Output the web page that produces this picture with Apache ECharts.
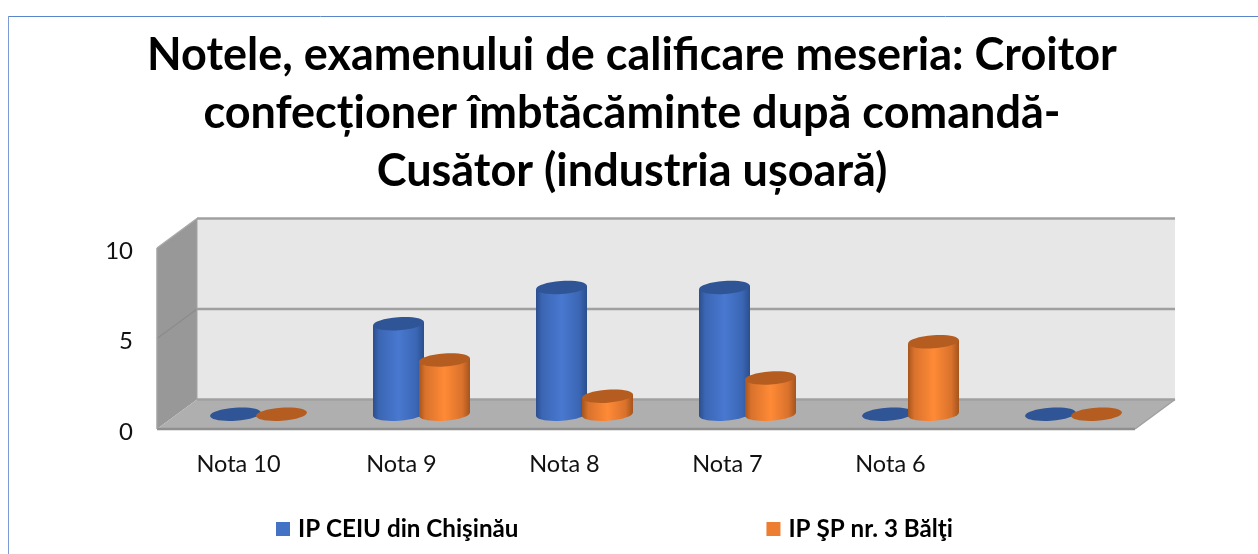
<!DOCTYPE html>
<html><head><meta charset="utf-8">
<style>html,body{margin:0;padding:0;background:#fff}#c{width:1258px;height:554px}</style>
<script src="https://cdn.jsdelivr.net/npm/echarts@6/dist/echarts.min.js"></script>
</head><body><div id="c"></div>
<script>
const categories = ['Nota 10','Nota 9','Nota 8','Nota 7','Nota 6',''];
const ceiu = [0,5,7,7,0,0];
const balti = [0,3,1,2,4,0];
const seriesNames = ['IP CEIU din Chişinău','IP ŞP nr. 3 Bălţi'];
const titleText = 'Notele, examenului de calificare meseria: Croitor\nconfecționer îmbtăcăminte după comandă-\nCusător (industria ușoară)';
const yTicks = [0,5,10];

const DX = 40, DY = -29.5;
const RX = 25.5, RY = 6.5, TILT = 0.07, SLOPE = 1.8;
const FONT = 'Lato, Carlito, "Open Sans", sans-serif';

function grad(edge, mid, light){
  return new echarts.graphic.LinearGradient(0,0,1,0,[
    {offset:0,color:edge},{offset:0.12,color:mid},{offset:0.5,color:light},{offset:0.85,color:mid},{offset:1,color:edge}
  ]);
}
function cylinder(shift, edge, mid, light, top){
  return function(params, api){
    const i = api.value(0), v = api.value(1);
    const base = api.coord([i,0]), head = api.coord([i,v]);
    const cx = base[0] + DX/2 + shift;
    const by = base[1] + DY/2, ty = head[1] + DY/2;
    const children = [];
    const ell = (cy, fill) => ({type:'ellipse',shape:{cx,cy,rx:RX,ry:RY},rotation:TILT,originX:cx,originY:cy,style:{fill}});
    if (v > 0) {
      children.push(ell(by, grad(edge,mid,light)));
      children.push({type:'polygon',shape:{points:[[cx-RX,ty+SLOPE],[cx+RX,ty-SLOPE],[cx+RX,by-SLOPE],[cx-RX,by+SLOPE]]},style:{fill:grad(edge,mid,light)}});
    }
    children.push(ell(ty, top));
    return {type:'group',children};
  };
}
function walls(params, api){
  const cs = params.coordSys;
  const xL = cs.x, xR = cs.x + cs.width;
  const p0 = api.coord([0,0])[1], p5 = api.coord([0,5])[1], p10 = api.coord([0,10])[1];
  const line = '#a0a0a0';
  const seg = (a,b,c,w) => ({type:'line',shape:{x1:a[0],y1:a[1],x2:b[0],y2:b[1]},style:{stroke:c||line,lineWidth:w||2.5}});
  return {type:'group',children:[
    {type:'polygon',shape:{points:[[xL+DX,p10+DY],[xR+DX,p10+DY],[xR+DX,p0+DY],[xL+DX,p0+DY]]},style:{fill:'#e7e7e7'}},
    {type:'polygon',shape:{points:[[xL,p10],[xL+DX,p10+DY],[xL+DX,p0+DY],[xL,p0]]},style:{fill:'#989898'}},
    {type:'polygon',shape:{points:[[xL,p0],[xL+DX,p0+DY],[xR+DX,p0+DY],[xR,p0]]},style:{fill:'#afafaf'}},
    seg([xL+DX,p10+DY],[xR+DX,p10+DY]),
    seg([xL+DX,p5+DY],[xR+DX,p5+DY]),
    seg([xL+DX,p0+DY],[xR+DX,p0+DY]),
    seg([xL,p0],[xR,p0],'#8f8f8f'),
    seg([xL,p5],[xL+DX,p5+DY],'#8c8c8c',1.5),
    seg([xL,p10],[xL+DX,p10+DY],'#a8a8a8',1.5),
    seg([xR,p0],[xR+DX,p0+DY],'#a0a0a0',1.5),
    seg([xL,p10],[xL,p0],'#a3a3a3',1.5),
    seg([xL+DX,p10+DY],[xL+DX,p0+DY],'#a3a3a3',1)
  ]};
}
const chart = echarts.init(document.getElementById('c'),null,{renderer:'canvas'});
chart.setOption({
  animation:false,
  backgroundColor:'#fff',
  title:{text:titleText,left:632,top:26,textAlign:'center',padding:0,
    textStyle:{fontFamily:FONT,fontWeight:'bold',fontSize:45,lineHeight:58,color:'#000'}},
  legend:{data:seriesNames,left:276,top:517,padding:0,itemWidth:14,itemHeight:14,itemGap:248,icon:'rect',
    textStyle:{fontFamily:FONT,fontWeight:'bold',fontSize:24.2,color:'#000',padding:[0,0,0,3]}},
  grid:{left:157,right:123,top:248,bottom:125},
  xAxis:{type:'category',data:categories,axisLine:{show:false},axisTick:{show:false},splitLine:{show:false},
    axisLabel:{fontFamily:FONT,fontSize:23.5,color:'#111',margin:23,interval:0}},
  yAxis:{type:'value',min:yTicks[0],max:yTicks[2],interval:yTicks[1],axisLine:{show:false},axisTick:{show:false},splitLine:{show:false},
    axisLabel:{fontFamily:FONT,fontSize:24,color:'#111',margin:24,verticalAlign:'top',lineHeight:6}},
  graphic:[
    {type:'line',shape:{x1:8,y1:16.5,x2:1258,y2:16.5},style:{stroke:'#5a84cc',lineWidth:1},silent:true},
    {type:'line',shape:{x1:8.5,y1:16,x2:8.5,y2:554},style:{stroke:'#7c9ad6',lineWidth:1},silent:true}
  ],
  series:[
    {type:'custom',name:'walls',silent:true,z:1,renderItem:walls,data:[[0,0]],encode:{x:0,y:1}},
    {type:'custom',name:seriesNames[0],z:2,itemStyle:{color:'#4472c4'},
      renderItem:cylinder(-23,'#2a4f8e','#3b66b4','#4878d0','#2f5597'),
      data:ceiu.map((v,i)=>[i,v]),encode:{x:0,y:1}},
    {type:'custom',name:seriesNames[1],z:3,itemStyle:{color:'#ed7d31'},
      renderItem:cylinder(23,'#a4541d','#d9722c','#ff8a36','#b55d20'),
      data:balti.map((v,i)=>[i,v]),encode:{x:0,y:1}}
  ]
});
</script></body></html>
